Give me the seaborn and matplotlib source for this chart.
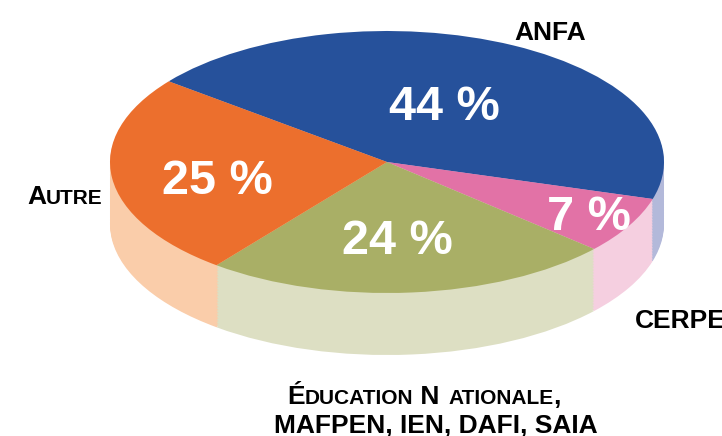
import matplotlib
matplotlib.use("Agg")
import matplotlib.pyplot as plt
import seaborn as sns

categories = ["ANFA", "CERPET", "Éducation Nationale", "Autre"]
shares = [44, 7, 24, 25]
pct_labels = ["44 %", "7 %", "24 %", "25 %"]
top_colors = ["#26519b", "#e272a6", "#a9af66", "#ec6f2d"]
side_colors = ["#b3b9da", "#f5cfe0", "#dddfc3", "#facdaa"]

sns.set_theme(style="white")
plt.rcParams["font.family"] = ["Liberation Sans Narrow", "Liberation Sans", "DejaVu Sans"]

W, H = 722, 436
CX, CY, RX, RY = 387, 162, 277, 131
DEPTH = 62 / RY

fig, ax = plt.subplots(figsize=(W / 100, H / 100), dpi=100)
fig.subplots_adjust(0, 0, 1, 1)

# side wall = stack of lighter pies going down, then the top one
n = 40
for i in range(n, 0, -1):
    ax.pie(shares, colors=side_colors, startangle=142, counterclock=False,
           center=(0, -DEPTH * i / n), radius=1, wedgeprops={"linewidth": 0})
ax.pie(shares, colors=top_colors, startangle=142, counterclock=False,
       center=(0, 0), radius=1, wedgeprops={"linewidth": 0})

ax.set_aspect("auto")
ax.set_xlim(-CX / RX, (W - CX) / RX)
ax.set_ylim(-(H - CY) / RY, CY / RY)


def px(x, y):
    return x / W, 1 - y / H


# percent labels
pct_pos = [(444, 107), (589, 217), (397, 241), (217, 181)]
for lab, (x, y) in zip(pct_labels, pct_pos):
    fx, fy = px(x, y)
    fig.text(fx, fy, lab, color="white", fontsize=35, fontweight="bold",
             ha="center", va="center")


def small_caps(x, y, text, size=19, small=15):
    # baseline at pixel y, left edge at pixel x: caps big, lowercase as small caps
    r = fig.canvas.get_renderer()
    cur = x
    i = 0
    while i < len(text):
        j = i
        low = text[i].islower()
        while j < len(text) and text[j].islower() == low:
            j += 1
        fx, fy = px(cur, y)
        part = text[i:j].upper() if low else text[i:j]
        t = fig.text(fx, fy, part, color="black", fontweight="bold",
                     fontsize=small if low else size, ha="left", va="baseline")
        # spaces at the end are not measured, so use a marker
        ext = fig.text(0, 0, part.replace(" ", "n"), fontweight="bold",
                       fontsize=small if low else size)
        cur += ext.get_window_extent(r).width
        ext.remove()
        i = j


small_caps(514, 40, "ANFA")
small_caps(635, 328, "CERPET")
small_caps(27, 204, "Autre")
small_caps(287, 404, "Éducation Nationale,")
small_caps(274, 433, "MAFPEN, IEN, DAFI, SAIA")

fig.savefig("out.png", dpi=100)
